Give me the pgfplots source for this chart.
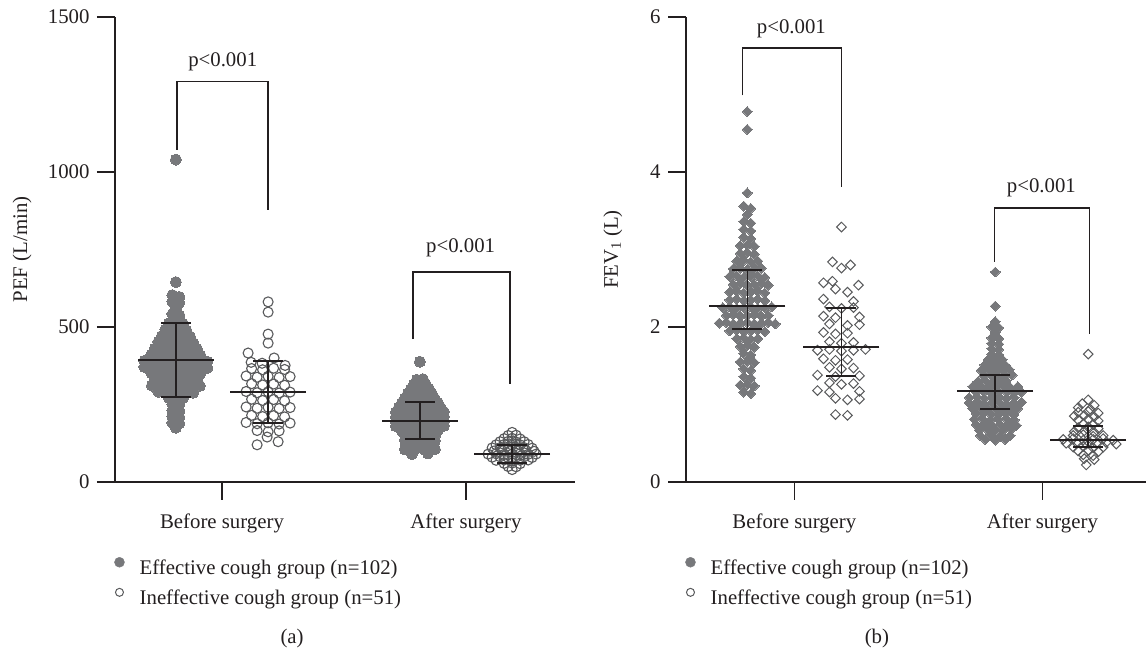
\documentclass[border=0pt]{standalone}
\usepackage{fontspec}
\setmainfont{Liberation Serif}
\usepackage{pgfplots}
\pgfplotsset{compat=1.18}
\definecolor{ink}{HTML}{231F20}
\definecolor{fillgray}{HTML}{77787B}
\definecolor{opengray}{HTML}{58595B}
\newcommand{\fsz}{\fontsize{20.8}{25}\selectfont}
\pgfplotsset{
  panel/.style={scale only axis, width=460pt, height=465pt,
    axis lines*=left, clip=false, clip mode=individual, clip marker paths=true,
    tick align=outside, major tick length=18pt,
    axis line style={ink, line width=1.3pt}, tick style={ink, line width=1.3pt},
    xtick={0,1}, xticklabels={Before surgery,After surgery},
    xticklabel style={yshift=-10pt}, yticklabel style={xshift=-4pt},
    tick label style={font=\fsz, text=ink}, label style={font=\fsz, text=ink},
    /pgf/number format/assume math mode=true, /pgf/number format/1000 sep={},
    legend cell align=left,
    legend style={at={(axis description cs:-0.002,-0.161)}, anchor=north west,
      draw=none, fill=none, inner sep=0pt, row sep=9.5pt, font=\fsz, text=ink}},
  effc/.style={forget plot, only marks, mark=*, mark size=5.5pt, color=fillgray, mark options={line width=0pt}},
  inec/.style={forget plot, only marks, mark=o, mark size=5pt, color=opengray, mark options={line width=1.1pt}},
  effd/.style={forget plot, only marks, mark=square*, mark size=3.5pt, color=fillgray, mark options={rotate=45, line width=0pt}},
  ined/.style={forget plot, only marks, mark=square, mark size=3.4pt, color=opengray, mark options={rotate=45, line width=1pt}},
  sumln/.style={forget plot, color=ink, line width=1.5pt, mark=none, sharp plot},
  capm/.style={forget plot, only marks, mark=-, mark size=15pt, color=ink, mark options={line width=1.4pt}},
  meanm/.style={forget plot, only marks, mark=-, mark size=38pt, color=ink, mark options={line width=1.4pt}},
  brk/.style={forget plot, color=ink, line width=1.3pt, mark=none, sharp plot},
  legA/.style={legend image code/.code={\fill[fillgray] (0pt,6pt) circle (5pt); \path (18pt,6pt);}},
  legB/.style={legend image code/.code={\draw[opengray, line width=1pt] (0pt,6pt) circle (4pt); \path (-5pt,6pt) (18pt,6pt);}}
}
\begin{document}
\begin{tikzpicture}
\useasboundingbox (0,0) rectangle (1146pt,652pt);
% ---------------- panel (a) ----------------
\begin{axis}[panel, at={(115pt,170pt)}, anchor=south west,
  xmin=-0.4385, xmax=1.4467, ymin=0, ymax=1500, ytick={0,500,1000,1500},
  ylabel={PEF (L/min)}, ylabel style={at={(axis description cs:-0.202,0.5)}, anchor=center}]
\addplot[effc] table[row sep=\\, x expr=\thisrow{d}/244-0.189, y=y] {d y\\
0 1040\\ 0 645\\ -3.5 603\\ 3.5 597\\ -3.5 582\\ 3.5 578\\ 0 560\\ -3.5 542\\ 3.5 538\\
-7 512\\ 0 508\\ 7 511\\ -10.5 492\\ -3.5 488\\ 3.5 491\\ 10.5 489\\
-14 471\\ -7 468\\ 0 472\\ 7 469\\ 14 470\\
-17.5 452\\ -10.5 448\\ -3.5 451\\ 3.5 449\\ 10.5 452\\ 17.5 448\\
-21 431\\ -14 428\\ -7 432\\ 0 429\\ 7 431\\ 14 428\\ 21 430\\
-24.5 411\\ -17.5 408\\ -10.5 412\\ -3.5 409\\ 3.5 411\\ 10.5 408\\ 17.5 412\\ 24.5 409\\
-31.5 391\\ -24.5 388\\ -17.5 392\\ -10.5 389\\ -3.5 391\\ 3.5 388\\ 10.5 392\\ 17.5 389\\ 24.5 391\\ 31.5 388\\
-31.5 371\\ -24.5 368\\ -17.5 372\\ -10.5 369\\ -3.5 371\\ 3.5 368\\ 10.5 372\\ 17.5 369\\ 24.5 371\\ 31.5 368\\
-24.5 351\\ -17.5 348\\ -10.5 352\\ -3.5 349\\ 3.5 351\\ 10.5 348\\ 17.5 352\\ 24.5 349\\
-21 331\\ -14 328\\ -7 332\\ 0 329\\ 7 331\\ 14 328\\ 21 330\\
-24 311\\ -14 308\\ -7 312\\ 0 309\\ 7 311\\ 14 308\\ 24 310\\
-17.5 291\\ -10.5 288\\ -3.5 292\\ 3.5 289\\ 10.5 291\\ 17.5 288\\
-7 271\\ 0 268\\ 7 270\\ -3.5 251\\ 3.5 249\\ -3.5 231\\ 3.5 229\\
-3.5 211\\ 3.5 209\\ -3.5 191\\ 3.5 189\\ 0 175\\
};
\addplot[inec] table[row sep=\\, x expr=\thisrow{d}/244+0.189, y=y] {d y\\
0 581\\ 0 548\\ 0 477\\ 0 448\\ -20 416\\ 6 400\\ -17 386\\ -6 383\\ 17 376\\
-16.5 366\\ -5.5 362\\ 5.5 367\\ 16.5 363\\
-22 342\\ -11 338\\ 0 341\\ 11 337\\ 22 340\\
-16.5 317\\ -5.5 313\\ 5.5 316\\ 16.5 312\\
-22 292\\ -11 288\\ 0 291\\ 11 287\\ 22 290\\
-16.5 267\\ -5.5 263\\ 5.5 266\\ 16.5 262\\
-22 242\\ -11 238\\ 0 241\\ 11 237\\ 22 240\\
-16.5 215\\ -5.5 211\\ 5.5 214\\ 16.5 210\\
-22 192\\ -11 188\\ 0 191\\ 11 187\\ 22 190\\
-11 166\\ 0 162\\ 11 165\\ -11 120\\ -1 145\\ 10 130\\
};
\addplot[effc] table[row sep=\\, x expr=\thisrow{d}/244+0.811, y=y] {d y\\
0 388\\ -3 330\\ 3 332\\ -6 315\\ 0 317\\ 6 314\\
-9 300\\ -3 302\\ 3 299\\ 9 301\\
-12 285\\ -6 287\\ 0 284\\ 6 286\\ 12 285\\
-15 270\\ -9 272\\ -3 269\\ 3 271\\ 9 270\\ 15 268\\
-18 255\\ -12 257\\ -6 254\\ 0 256\\ 6 255\\ 12 253\\ 18 256\\
-21 240\\ -15 242\\ -9 239\\ -3 241\\ 3 240\\ 9 238\\ 15 241\\ 21 239\\
-24 225\\ -18 227\\ -12 224\\ -6 226\\ 0 225\\ 6 223\\ 12 226\\ 18 224\\ 24 226\\
-24 210\\ -18 212\\ -12 209\\ -6 211\\ 0 210\\ 6 208\\ 12 211\\ 18 209\\ 24 211\\
-24 195\\ -18 197\\ -12 194\\ -6 196\\ 0 195\\ 6 193\\ 12 196\\ 18 194\\ 24 196\\
-24 180\\ -18 182\\ -12 179\\ -6 181\\ 0 180\\ 6 178\\ 12 181\\ 18 179\\ 24 181\\
-18 165\\ -12 167\\ -6 164\\ 0 166\\ 6 165\\ 12 163\\ 18 166\\
-15 150\\ -9 152\\ -3 149\\ 3 151\\ 9 150\\ 15 148\\
-15 135\\ -9 137\\ -3 134\\ 3 136\\ 9 135\\ 15 133\\
-12 120\\ -6 122\\ 0 119\\ 6 121\\ 12 120\\
-15 105\\ -5 107\\ 5 104\\ 15 106\\ -8 90\\ 8 92\\
};
\addplot[inec] table[row sep=\\, x expr=\thisrow{d}/244+1.189, y=y] {d y\\
0 160\\ -4 150\\ 4 151\\ -8 140\\ 0 141\\ 8 139\\
-12 130\\ -4 131\\ 4 129\\ 12 130\\
-16 120\\ -8 121\\ 0 119\\ 8 120\\ 16 121\\
-20 110\\ -12 111\\ -4 109\\ 4 110\\ 12 111\\ 20 109\\
-18 100\\ -10 101\\ -2 99\\ 6 100\\ 14 101\\ 22 99\\
-24 90\\ -16 91\\ -8 89\\ 0 90\\ 8 91\\ 16 89\\ 24 90\\
-20 80\\ -12 81\\ -4 79\\ 4 80\\ 12 81\\ 20 79\\
-16 70\\ -8 71\\ 0 69\\ 8 70\\ 16 71\\
-8 60\\ 0 61\\ 8 59\\ -4 50\\ 4 49\\ 0 40\\
};
% mean and spread
\addplot[capm] coordinates {(-0.189,274) (-0.189,513) (0.189,190) (0.189,390) (0.811,139) (0.811,258) (1.189,61) (1.189,119)};
\addplot[meanm] coordinates {(-0.189,393.5) (0.189,290) (0.811,197) (1.189,90)};
\addplot[sumln] coordinates {(-0.189,274) (-0.189,513)};
\addplot[sumln] coordinates {(0.189,190) (0.189,390)};
\addplot[sumln] coordinates {(0.811,139) (0.811,258)};
\addplot[sumln] coordinates {(1.189,61) (1.189,119)};
\addplot[brk] coordinates {(-0.184,1071) (-0.184,1293) (0.189,1293) (0.189,877)};
\addplot[brk] coordinates {(0.783,461) (0.783,677) (1.180,677) (1.180,316)};
\node[font=\fsz, text=ink] at (axis cs:0.003,1355) {p<0.001};
\node[font=\fsz, text=ink] at (axis cs:0.978,755) {p<0.001};
\node[font=\fsz, text=ink] at (axis description cs:0.385,-0.3355) {(a)};
\addlegendimage{legA}\addlegendentry{Effective cough group (n=102)}
\addlegendimage{legB}\addlegendentry{Ineffective cough group (n=51)}
\end{axis}
% ---------------- panel (b) ----------------
\begin{axis}[panel, at={(686pt,170pt)}, anchor=south west,
  xmin=-0.437, xmax=1.418, ymin=0, ymax=6, ytick={0,2,4,6},
  ylabel={FEV\textsubscript{1} (L)}, ylabel style={at={(axis description cs:-0.159,0.5)}, anchor=center}]
\addplot[effd] table[row sep=\\, x expr=\thisrow{d}/248-0.19, y=y] {d y\\
0 4.78\\ 0 4.55\\ 0 3.73\\ -3.5 3.56\\ 3.5 3.53\\ 0 3.45\\
-3.5 3.36\\ 3.5 3.34\\ -3.5 3.26\\ 3.5 3.24\\ -3.5 3.16\\ 3.5 3.14\\
-7 3.05\\ 0 3.06\\ 7 3.04\\ -7 2.95\\ 0 2.96\\ 7 2.94\\
-10.5 2.85\\ -3.5 2.86\\ 3.5 2.84\\ 10.5 2.85\\
-14 2.75\\ -7 2.76\\ 0 2.74\\ 7 2.75\\ 14 2.76\\
-17.5 2.65\\ -10.5 2.66\\ -3.5 2.64\\ 3.5 2.65\\ 10.5 2.66\\ 17.5 2.64\\
-14 2.55\\ -7 2.56\\ 0 2.54\\ 7 2.55\\ 14 2.56\\ 21 2.54\\
-17.5 2.45\\ -10.5 2.46\\ -3.5 2.44\\ 3.5 2.45\\ 10.5 2.46\\ 17.5 2.44\\
-17.5 2.35\\ -10.5 2.36\\ -3.5 2.34\\ 3.5 2.35\\ 10.5 2.36\\ 17.5 2.34\\
-24.5 2.25\\ -17.5 2.26\\ -10.5 2.24\\ -3.5 2.25\\ 3.5 2.26\\ 10.5 2.24\\ 17.5 2.25\\ 24.5 2.26\\
-21 2.15\\ -14 2.16\\ -7 2.14\\ 0 2.15\\ 7 2.16\\ 14 2.14\\ 21 2.15\\
-28 2.05\\ -21 2.06\\ -14 2.04\\ -7 2.05\\ 0 2.06\\ 7 2.04\\ 14 2.05\\ 21 2.06\\ 28 2.04\\
-17.5 1.95\\ -10.5 1.96\\ -3.5 1.94\\ 3.5 1.95\\ 10.5 1.96\\ 17.5 1.94\\
-10.5 1.85\\ -3.5 1.86\\ 3.5 1.84\\ 10.5 1.85\\
-7 1.75\\ 0 1.76\\ 7 1.74\\ -3.5 1.66\\ 3.5 1.64\\
-7 1.55\\ 0 1.56\\ 7 1.54\\ -3.5 1.46\\ 3.5 1.44\\ -3.5 1.36\\ 3.5 1.34\\
-7 1.25\\ 0 1.26\\ 7 1.24\\ -3.5 1.16\\ 3.5 1.14\\
};
\addplot[ined] table[row sep=\\, x expr=\thisrow{d}/248+0.19, y=y] {d y\\
0 3.29\\ -9 2.84\\ 0 2.76\\ 9 2.80\\ -18 2.57\\ -9 2.59\\ 17 2.54\\
-6 2.49\\ 6 2.45\\ -18 2.36\\ 12 2.33\\
-12 2.26\\ 0 2.24\\ 12 2.25\\ -18 2.14\\ -6 2.12\\ 18 2.13\\
-12 2.04\\ 6 2.02\\ 18 2.03\\ -18 1.93\\ -6 1.91\\ 6 1.92\\
-12 1.81\\ 0 1.79\\ 12 1.80\\
-24 1.70\\ -12 1.71\\ 0 1.69\\ 12 1.70\\ 24 1.71\\
-18 1.59\\ -6 1.57\\ 6 1.58\\ -12 1.48\\ 0 1.46\\ 12 1.47\\
-24 1.38\\ -6 1.36\\ 18 1.37\\ -12 1.28\\ 0 1.26\\ 12 1.27\\
-24 1.18\\ -12 1.16\\ 18 1.17\\ -6 1.08\\ 6 1.06\\ 18 1.07\\
-6 0.87\\ 6 0.86\\
};
\addplot[effd] table[row sep=\\, x expr=\thisrow{d}/248+0.81, y=y] {d y\\
0 2.71\\ 0 2.27\\ 0 2.07\\ -3.5 2.00\\ 3.5 1.99\\ 0 1.93\\
-3.5 1.86\\ 3.5 1.85\\ -3.5 1.79\\ 3.5 1.78\\ -3.5 1.72\\ 3.5 1.71\\ -3.5 1.65\\ 3.5 1.64\\
-7 1.58\\ 0 1.57\\ 7 1.58\\ -10.5 1.51\\ -3.5 1.50\\ 3.5 1.51\\ 10.5 1.50\\
-14 1.44\\ -7 1.45\\ 0 1.43\\ 7 1.44\\ 14 1.45\\
-11 1.37\\ -4 1.38\\ 3 1.36\\ 10 1.37\\ 17 1.38\\
-17 1.30\\ -10 1.31\\ -3 1.29\\ 4 1.30\\ 11 1.31\\
-22.5 1.23\\ -15 1.24\\ -7.5 1.22\\ 0 1.23\\ 7.5 1.24\\ 15 1.22\\ 22.5 1.23\\
-19 1.16\\ -11.5 1.17\\ -4 1.15\\ 3.5 1.16\\ 11 1.17\\ 18.5 1.15\\ 26 1.16\\
-26 1.09\\ -18.5 1.10\\ -11 1.08\\ -3.5 1.09\\ 4 1.10\\ 11.5 1.08\\ 19 1.09\\
-26.25 1.02\\ -18.75 1.03\\ -11.25 1.01\\ -3.75 1.02\\ 3.75 1.03\\ 11.25 1.01\\ 18.75 1.02\\ 26.25 1.03\\
-22.5 0.95\\ -15 0.96\\ -7.5 0.94\\ 0 0.95\\ 7.5 0.96\\ 15 0.94\\ 22.5 0.95\\
-18.75 0.88\\ -11.25 0.89\\ -3.75 0.87\\ 3.75 0.88\\ 11.25 0.89\\ 18.75 0.87\\
-21 0.81\\ -13 0.82\\ -5 0.80\\ 3 0.81\\ 11 0.82\\ 19 0.80\\
-19 0.74\\ -11 0.75\\ -3 0.73\\ 5 0.74\\ 13 0.75\\ 21 0.73\\
-16 0.67\\ -8 0.68\\ 0 0.66\\ 8 0.67\\ 16 0.68\\
-15 0.60\\ -5 0.61\\ 5 0.59\\ 15 0.60\\ -10 0.55\\ 0 0.54\\ 10 0.55\\
};
\addplot[ined] table[row sep=\\, x expr=\thisrow{d}/248+1.185, y=y] {d y\\
0 1.65\\ 0 1.06\\ -6 1.01\\ 6 0.99\\ -10 0.96\\ 2 0.94\\
-10 0.90\\ 0 0.91\\ 10 0.89\\ -14 0.85\\ -4 0.86\\ 6 0.84\\
-10 0.80\\ 0 0.81\\ 10 0.79\\ -5 0.75\\ 5 0.74\\
-10 0.70\\ 0 0.71\\ 10 0.69\\ -14 0.65\\ -4 0.66\\ 6 0.64\\
-15 0.60\\ -5 0.61\\ 5 0.59\\ 15 0.60\\
-25 0.55\\ -15 0.56\\ -5 0.54\\ 5 0.55\\ 15 0.56\\ 25 0.54\\
-22 0.50\\ -12 0.51\\ -2 0.49\\ 8 0.50\\ 18 0.51\\ 28 0.49\\
-15 0.45\\ -5 0.46\\ 5 0.44\\ 15 0.45\\
-10 0.40\\ 0 0.41\\ 10 0.39\\ -5 0.35\\ 5 0.34\\ -4 0.30\\ 6 0.29\\ -2 0.22\\
};
% mean and spread
\addplot[capm] coordinates {(-0.19,1.974) (-0.19,2.735) (0.19,1.368) (0.19,2.245) (0.81,0.94) (0.81,1.38) (1.185,0.45) (1.185,0.72)};
\addplot[meanm] coordinates {(-0.19,2.27) (0.19,1.742) (0.81,1.174) (1.185,0.542)};
\addplot[sumln] coordinates {(-0.19,1.974) (-0.19,2.735)};
\addplot[sumln] coordinates {(0.19,1.368) (0.19,2.245)};
\addplot[sumln] coordinates {(0.81,0.94) (0.81,1.38)};
\addplot[sumln] coordinates {(1.185,0.45) (1.185,0.72)};
\addplot[brk] coordinates {(-0.21,4.99) (-0.21,5.6) (0.19,5.6) (0.19,3.81)};
\addplot[brk] coordinates {(0.806,2.84) (0.806,3.535) (1.19,3.535) (1.19,1.91)};
\node[font=\fsz, text=ink] at (axis cs:-0.012,5.85) {p<0.001};
\node[font=\fsz, text=ink] at (axis cs:0.996,3.79) {p<0.001};
\node[font=\fsz, text=ink] at (axis description cs:0.415,-0.3355) {(b)};
\addlegendimage{legA}\addlegendentry{Effective cough group (n=102)}
\addlegendimage{legB}\addlegendentry{Ineffective cough group (n=51)}
\end{axis}
\end{tikzpicture}
\end{document}
